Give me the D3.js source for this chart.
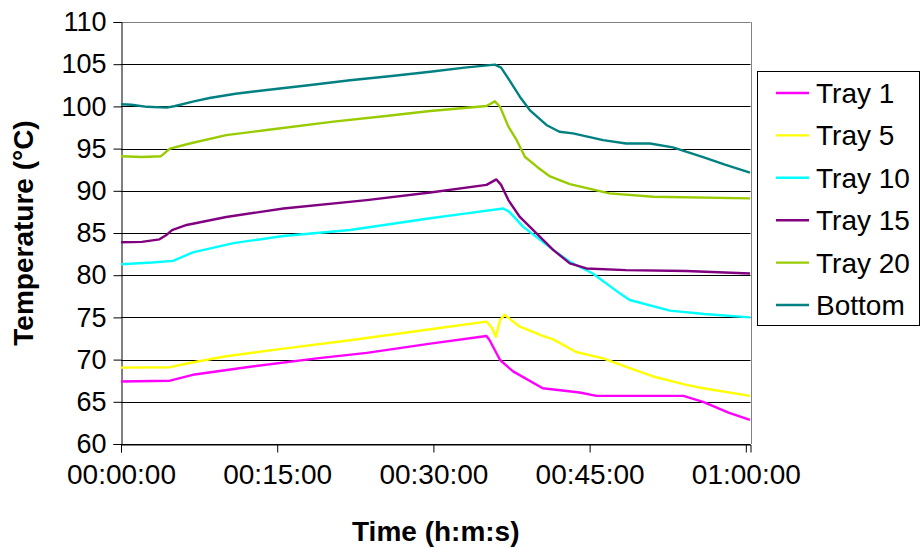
<!DOCTYPE html>
<html><head><meta charset="utf-8">
<script src="https://cdn.jsdelivr.net/npm/d3@7"></script>
<style>body{margin:0;background:#fff}svg{display:block}text{font-family:Arial,"Liberation Sans",sans-serif}</style>
</head><body>
<svg id="c" width="921" height="548"></svg>
<script>
// time in minutes, temperature in °C
const seriesNames = ["Tray 1","Tray 5","Tray 10","Tray 15","Tray 20","Bottom"];
const seriesColors = ["#FF00FF","#FFFF00","#00FFFF","#800080","#99CC00","#008080"];
const tray1 = [[0,67.4],[4.7,67.5],[6.9,68.2],[12.4,69.15],[18.8,70.15],[23.6,70.8],[29.7,71.9],[35.1,72.8],[35.4,72.3],[36.4,69.95],[37.65,68.6],[40.5,66.6],[44.05,66.1],[45.65,65.7],[51.1,65.7],[54.0,65.7],[55.9,65.0],[58.4,63.7],[60.4,62.85]];
const tray5 = [[0,69.05],[4.7,69.1],[6.6,69.6],[10.1,70.4],[15.6,71.3],[22,72.3],[29.7,73.6],[35.1,74.5],[35.6,73.8],[36.0,72.7],[36.4,74.7],[36.85,75.3],[38.3,73.9],[40.5,72.8],[41.5,72.4],[43.7,70.9],[46.3,70.15],[48.85,69.0],[51.1,68.0],[54.3,67.0],[55.9,66.6],[60.4,65.7]];
const tray10 = [[0,81.3],[3,81.5],[5.0,81.7],[6.9,82.7],[10.8,83.8],[15.6,84.65],[22,85.35],[29.7,86.75],[33,87.3],[36.7,87.9],[37.3,87.5],[38.6,85.75],[41.5,83.0],[43.1,81.6],[45.3,80.2],[47.9,77.85],[48.85,77.06],[52.7,75.8],[56,75.4],[60.4,75.0]];
const tray15 = [[0,83.9],[2,83.95],[3.7,84.25],[4.4,84.8],[4.9,85.35],[6.3,85.95],[10.1,86.9],[15.6,87.9],[23.6,88.9],[29.7,89.8],[35.1,90.7],[36.05,91.35],[36.5,90.7],[37.2,88.9],[38.3,86.9],[39.9,84.95],[41.5,83.0],[43.1,81.4],[44.7,80.8],[48.5,80.6],[54.3,80.5],[60.4,80.2]];
const tray20 = [[0,94.1],[2,94.0],[3.84,94.1],[4.7,95.0],[6.6,95.6],[10.1,96.6],[14,97.2],[20.4,98.2],[25,98.8],[29.7,99.45],[35.1,100.05],[35.9,100.6],[36.4,99.96],[37.2,97.6],[38,96.0],[38.8,94.0],[40,92.8],[41.2,91.7],[43.1,90.8],[46.9,89.7],[51.1,89.3],[60.4,89.1]];
const bottom = [[0,100.25],[1,100.2],[2.5,99.95],[4.4,99.85],[5.2,100.05],[7,100.6],[8.5,101.0],[11,101.5],[14,101.95],[18,102.5],[22,103.1],[26,103.6],[29.7,104.1],[33,104.6],[35.9,104.95],[36.5,104.6],[37.2,103.3],[38.3,101.15],[39.25,99.57],[40.85,97.8],[42.1,97.0],[43.4,96.8],[46.3,96.0],[48.5,95.6],[50.8,95.6],[53,95.15],[55.9,94.0],[58,93.1],[60.4,92.15]];
const seriesData = [tray1,tray5,tray10,tray15,tray20,bottom];
const yTicks = [60,65,70,75,80,85,90,95,100,105,110];
const xTicks = [0,15,30,45,60];
const xTickLabels = ["00:00:00","00:15:00","00:30:00","00:45:00","01:00:00"];

const svg = d3.select("#c");
const L=121, R=750.5, T=22, B=444;
const x = d3.scaleLinear().domain([0,60.45]).range([L,R]);
const y = d3.scaleLinear().domain([60,110]).range([B,T]);

// gridlines
svg.append("g").selectAll("line").data(yTicks).join("line")
  .attr("x1",L).attr("x2",R).attr("y1",d=>Math.round(y(d))+0.5).attr("y2",d=>Math.round(y(d))+0.5)
  .attr("stroke",d=>d===110?"#808080":"#000").attr("stroke-width",1);
// right border
svg.append("line").attr("x1",Math.round(R)+0.5).attr("x2",Math.round(R)+0.5).attr("y1",T).attr("y2",B)
  .attr("stroke","#808080");

// y axis
const ya = svg.append("g").attr("transform",`translate(${L+0.5},0)`)
  .call(d3.axisLeft(y).tickValues(yTicks).tickSize(8).tickPadding(7).tickFormat(d3.format("d")));
ya.select(".domain").attr("stroke","#000");
ya.selectAll(".tick line").attr("stroke","#000");
ya.selectAll("text").attr("font-size",27).attr("fill","#000").attr("font-family","Arial, 'Liberation Sans', sans-serif");

// x axis
const xa = svg.append("g").attr("transform",`translate(0,${B+0.5})`)
  .call(d3.axisBottom(x).tickValues(xTicks).tickSize(8).tickPadding(12).tickFormat((d,i)=>xTickLabels[i]));
xa.select(".domain").attr("stroke","#000");
xa.selectAll(".tick line").attr("stroke","#000");
xa.selectAll("text").attr("font-size",28).attr("fill","#000").attr("font-family","Arial, 'Liberation Sans', sans-serif");

// lines
const line = d3.line().x(d=>x(d[0])).y(d=>y(d[1]));
svg.append("g").selectAll("path").data(seriesData).join("path")
  .attr("d",line).attr("fill","none")
  .attr("stroke",(d,i)=>seriesColors[i]).attr("stroke-width",2.4).attr("stroke-linejoin","round");

// axis titles
svg.append("text").attr("transform",`translate(33,${(T+B)/2}) rotate(-90)`)
  .attr("text-anchor","middle").attr("font-size",28).attr("font-weight","bold").text("Temperature (°C)");
svg.append("text").attr("x",(L+R)/2).attr("y",541)
  .attr("text-anchor","middle").attr("font-size",28).attr("font-weight","bold").text("Time (h:m:s)");

// legend
const lg = svg.append("g");
lg.append("rect").attr("x",757.5).attr("y",71.5).attr("width",162).attr("height",254)
  .attr("fill","#fff").attr("stroke","#000");
const rows = lg.selectAll("g.r").data(seriesNames).join("g").attr("class","r")
  .attr("transform",(d,i)=>`translate(0,${93+i*42.4})`);
rows.append("line").attr("x1",776).attr("x2",809).attr("stroke",(d,i)=>seriesColors[i]).attr("stroke-width",2.4);
rows.append("text").attr("x",816).attr("dy","0.36em").attr("font-size",28).attr("fill","#000").text(d=>d);
</script>
</body></html>
